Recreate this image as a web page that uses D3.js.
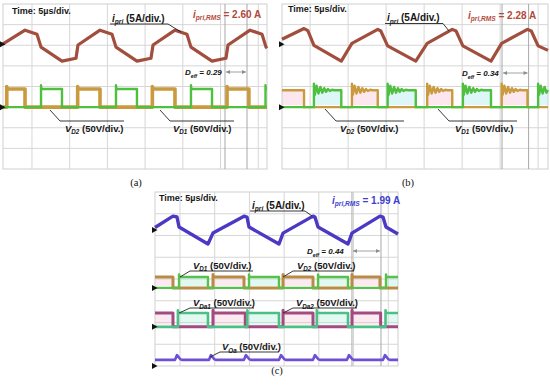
<!DOCTYPE html>
<html><head><meta charset="utf-8">
<script src="https://cdn.jsdelivr.net/npm/d3@7"></script>
<style>
body{margin:0;background:#fff}
svg{display:block}
text{font-family:"Liberation Sans",Arial,Helvetica,sans-serif}
</style></head>
<body><svg width="550" height="387"></svg>
<script>
// ================= DATA =================
const timeWindow = [0, 35];           // µs (7 div × 5 µs/div)
const voltsPerDiv = 50, ampsPerDiv = 5;
const timeLabel = "Time: 5µs/div.";
const panelNames = ["(a)", "(b)", "(c)"];

// ---- panel (a)
const aTime    = [0, 2.92, 4.51, 5.04, 7.82, 9.68, 9.94, 12.86, 14.45, 14.98, 17.76, 19.62, 19.89, 22.80, 24.39, 24.92, 27.71, 29.56, 29.83, 32.75, 34.34, 34.87, 35.0];
const aCurrent = [0.1, 3.4, 2.4, -0.7, -4.1, -3.4, -0.2, 3.4, 2.4, -0.7, -4.1, -3.4, -0.2, 3.4, 2.4, -0.7, -4.1, -3.4, -0.2, 3.4, 2.4, -0.7, -1.0];
const aVD2On  = [0.5, 9.9, 19.8, 29.7],  aVD2Off = [2.92, 12.86, 22.8, 32.6];
const aVD1On  = [5.04, 14.98, 24.92, 34.8], aVD1Off = [7.82, 17.76, 27.71, 36];
const aVDHigh = 44;  // V
const aCursors = [29.43, 32.35];
const aRms = "2.60 A", aDeff = "0.29";

// ---- panel (b)
const bTime    = [0, 2.9, 3.4, 4.2, 7.8, 9.2, 12.6, 13.0, 13.9, 17.6, 19.1, 22.4, 22.9, 23.8, 27.5, 28.9, 32.3, 32.8, 33.7, 35];
const bCurrent = [1.2, 3.8, 3.3, -0.3, -4.1, 0.2, 3.6, 3.2, -0.4, -4.1, 0.2, 3.6, 3.2, -0.4, -4.1, 0.2, 3.6, 3.2, -0.4, -1.5];
const bVD2On  = [-1, 9.2, 19.1, 28.9],  bVD2Off = [2.9, 12.6, 22.4, 32.3];
const bVD1On  = [4.2, 13.9, 23.8, 33.7], bVD1Off = [7.8, 17.6, 27.5, 36];
const bVDHigh = 41;
const bRingT = [0, 0.12, 0.35, 0.6, 0.85, 1.1, 1.35, 1.6, 1.85, 2.1, 2.4, 2.7];
const bRingV = [16, -11, 11, -8, 8, -6, 5, -4, 3, -2, 1, 0];
const bCursors = [28.95, 32.45];
const bRms = "2.28 A", bDeff = "0.34";

// ---- panel (c)
const cTime    = [0, 2.59, 3.17, 3.46, 7.63, 8.35, 12.82, 13.25, 13.54, 17.86, 18.44, 22.76, 23.04, 23.48, 27.80, 28.37, 32.41, 32.84, 33.27, 35];
const cCurrent = [0.6, 3.2, 3.0, 0.7, -3.2, -0.7, 3.2, 3.0, 0.7, -3.2, -0.7, 3.2, 3.0, 0.7, -3.2, -0.7, 3.2, 3.0, 0.7, -0.9];
const cVD2On  = [-1, 8.35, 18.44, 28.37],  cVD2Off = [2.59, 12.82, 22.76, 32.41];
const cVD1On  = [3.46, 13.54, 23.48, 33.27], cVD1Off = [7.63, 17.86, 27.80, 36];
const cVDHigh = 25;
const cVDa2On = [-1, 8.35, 18.44, 28.37],  cVDa2Off = [2.59, 13.0, 22.76, 32.5];
const cVDa1On = [3.3, 13.3, 23.3, 33.2],  cVDa1Off = [7.63, 17.86, 27.80, 36];
const cVDaHigh = 32;
const cVOaBase = 14, cVOaPeak = 25;
const cVOaBumps = [3.17, 8.06, 13.1, 18.15, 23.04, 27.94, 33.13];
const cCursors = [28.37, 32.55];
const cRms = "1.99 A", cDeff = "0.44";

// ================= LAYOUT =================
const svg = d3.select("svg");
const C = {
  cur: "#a24e3e", vd2: "#c99a3e", vd1: "#4fbf3f",
  curC: "#4b39c4", vd2C: "#b88c44", vd1C: "#58c04c",
  mag: "#a34a82", mint: "#4cbf86", voa: "#6e4fd6",
  grid: "#d6d6d6", cursor: "#a8a8a8", text: "#161616"
};

function makePanel(o) {
  const g = svg.append("g");
  const x = d3.scaleLinear().domain(timeWindow).range([o.x0, o.x1]);
  const y = d3.scaleLinear().domain([-4, 4]).range([o.y1, o.y0]);
  g.append("rect").attr("x", o.x0).attr("y", o.y0).attr("width", o.x1 - o.x0).attr("height", o.y1 - o.y0)
    .attr("fill", "#fff").attr("stroke", "#cfcfcf").attr("stroke-width", 1);
  const gx = [];
  for (let t = o.gridT0; t < timeWindow[1]; t += 5) gx.push(t);
  g.selectAll(null).data(gx).enter().append("line")
    .attr("x1", d => x(d)).attr("x2", d => x(d)).attr("y1", o.y0).attr("y2", o.y1)
    .attr("stroke", C.grid).attr("stroke-width", 1);
  g.selectAll(null).data(d3.range(-3, 4)).enter().append("line")
    .attr("x1", o.x0).attr("x2", o.x1).attr("y1", d => y(d)).attr("y2", d => y(d))
    .attr("stroke", C.grid).attr("stroke-width", 1);
  return {g, x, y, o};
}

function chY(P, offset, perDiv) { return v => P.y(offset + v / perDiv); }

function pulsePts(on, off, hi, ringT, ringV) {
  const [t0, t1] = timeWindow;
  const pts = [[t0, on[0] <= t0 ? hi : 0]];
  on.forEach((ts, i) => {
    const te = Math.min(off[i], t1);
    if (ts > t0) {
      pts.push([ts, 0]);
      if (ringT) ringT.forEach((dt, j) => { if (ts + dt < te) pts.push([ts + dt, hi + ringV[j]]); });
      else pts.push([ts, hi]);
    }
    pts.push([te, hi]);
    if (off[i] < t1) pts.push([te, 0]);
  });
  const last = pts[pts.length - 1];
  if (last[0] < t1) pts.push([t1, last[1]]);
  return pts;
}

function drawLine(P, pts, yf, color, w, op) {
  P.g.append("path").datum(pts)
    .attr("d", d3.line().x(d => P.x(d[0])).y(d => yf(d[1])))
    .attr("fill", "none").attr("stroke", color).attr("stroke-width", w)
    .attr("stroke-linejoin", "round").attr("opacity", op || 1);
}

function pulseFill(P, on, off, hi, yf, color) {
  on.forEach((ts, i) => {
    const a = Math.max(ts, timeWindow[0]), b = Math.min(off[i], timeWindow[1]);
    P.g.append("rect").attr("x", P.x(a)).attr("width", P.x(b) - P.x(a))
      .attr("y", yf(hi)).attr("height", yf(0) - yf(hi) - 2)
      .attr("fill", color).attr("opacity", 0.35);
  });
}

function ground(P, yv) {
  const x0 = P.o.x0;
  P.g.append("path").attr("d", `M${x0 - 3},${yv - 3}L${x0 + 2.5},${yv}L${x0 - 3},${yv + 3}Z`).attr("fill", "#111");
}

function cursors(P, ts) {
  P.g.selectAll(null).data(ts).enter().append("line")
    .attr("x1", d => P.x(d)).attr("x2", d => P.x(d)).attr("y1", P.o.y0).attr("y2", P.o.y1)
    .attr("stroke", C.cursor).attr("stroke-width", 1);
}

function rich(g, x, y, parts, size, color, anchor) {
  const t = g.append("text").attr("x", x).attr("y", y).attr("font-size", size)
    .attr("font-weight", "bold").attr("fill", color || C.text);
  if (anchor) t.attr("text-anchor", anchor);
  let sub = false;
  parts.forEach(p => {
    const ts = t.append("tspan").text(p.s);
    if (p.i) ts.attr("font-style", "italic");
    if (p.sub) { ts.attr("font-size", size * 0.66).attr("dy", 2.5); sub = true; }
    else if (sub) { ts.attr("dy", -2.5); sub = false; }
  });
  return t;
}

function leader(g, pts) {
  g.append("path").attr("d", d3.line()(pts)).attr("fill", "none").attr("stroke", "#222").attr("stroke-width", 0.9);
}

function deffArrow(P, t0, t1, yv, txtX, val) {
  const a = P.x(t0) + 1, b = P.x(t1) - 1;
  P.g.append("line").attr("x1", a).attr("x2", b).attr("y1", yv).attr("y2", yv).attr("stroke", "#8c8c8c").attr("stroke-width", 0.8);
  P.g.append("path").attr("d", `M${a},${yv}l4,-2v4Z M${b},${yv}l-4,-2v4Z`).attr("fill", "#8c8c8c");
  rich(P.g, txtX, yv + 3, [{s: "D", i: 1}, {s: "eff", i: 1, sub: 1}, {s: " = " + val, i: 1}], 8);
}

function vLabel(g, x, y, sym, sub) {
  rich(g, x, y, [{s: sym, i: 1}, {s: sub, i: 1, sub: 1}, {s: " (50V/div.)"}], 9.5);
}

// ================= PANEL (a) =================
const A = makePanel({x0: 3, x1: 267, y0: 4, y1: 169, gridT0: 3.84});
const aI = chY(A, 2.05, ampsPerDiv), aV = chY(A, -1, voltsPerDiv);
cursors(A, aCursors);
drawLine(A, pulsePts(aVD2On, aVD2Off, aVDHigh, [0, 0.05], [6, 0]), aV, C.vd2, 3.6);
drawLine(A, pulsePts(aVD1On, aVD1Off, aVDHigh, [0, 0.05], [9, 0]), aV, C.vd1, 2.4);
drawLine(A, d3.zip(aTime, aCurrent), aI, C.cur, 3.2);
ground(A, aI(0)); ground(A, aV(0));
rich(A.g, 12, 13.5, [{s: timeLabel}], 9);
rich(A.g, 112, 21.5, [{s: "i", i: 1}, {s: "pri", i: 1, sub: 1}, {s: " (5A/div.)"}], 10);
leader(A.g, [[110, 24], [168, 24], [181, 32]]);
rich(A.g, 193, 17.5, [{s: "i", i: 1}, {s: "pri,RMS", i: 1, sub: 1}, {s: " = " + aRms}], 10, "#b5473a");
deffArrow(A, aCursors[0], aCursors[1], 72, 185, aDeff);
leader(A.g, [[50, 110], [60, 121], [124, 121]]);
vLabel(A.g, 65, 131.5, "V", "D2");
leader(A.g, [[160, 110], [170, 121], [234, 121]]);
vLabel(A.g, 173, 131.5, "V", "D1");

// ================= PANEL (b) =================
const B = makePanel({x0: 282, x1: 548, y0: 4, y1: 169, gridT0: 3.7});
const bI = chY(B, 2.05, ampsPerDiv), bV = chY(B, -1, voltsPerDiv);
pulseFill(B, bVD1On, bVD1Off, bVDHigh, bV, "#9fe8ec");
pulseFill(B, bVD2On, bVD2Off, bVDHigh, bV, "#f6b9cf");
cursors(B, bCursors);
drawLine(B, pulsePts(bVD2On, bVD2Off, bVDHigh, bRingT, bRingV), bV, C.vd2, 2.4);
drawLine(B, pulsePts(bVD1On, bVD1Off, bVDHigh, bRingT, bRingV), bV, C.vd1, 2.4);
drawLine(B, d3.zip(bTime, bCurrent), bI, C.cur, 3.2);
ground(B, bI(0)); ground(B, bV(0));
rich(B.g, 288, 11.5, [{s: timeLabel}], 9);
rich(B.g, 387, 21, [{s: "i", i: 1}, {s: "pri", i: 1, sub: 1}, {s: " (5A/div.)"}], 10);
leader(B.g, [[385, 23.5], [443, 23.5], [449, 31]]);
rich(B.g, 468, 18.5, [{s: "i", i: 1}, {s: "pri,RMS", i: 1, sub: 1}, {s: " = " + bRms}], 10, "#b5473a");
deffArrow(B, bCursors[0], bCursors[1], 73, 462, bDeff);
leader(B.g, [[325, 109], [336, 121], [404, 121]]);
vLabel(B.g, 340, 131.5, "V", "D2");
leader(B.g, [[438, 109], [449, 121], [517, 121]]);
vLabel(B.g, 455, 131.5, "V", "D1");

// ================= PANEL (c) =================
const Cp = makePanel({x0: 155, x1: 398, y0: 192, y1: 366, gridT0: 3.6});
const cI = chY(Cp, 2.25, ampsPerDiv), cV = chY(Cp, -0.41, voltsPerDiv),
      cVa = chY(Cp, -2.2, voltsPerDiv), cVo = chY(Cp, -4.0, voltsPerDiv);
pulseFill(Cp, cVD1On, cVD1Off, cVDHigh, cV, "#a9eed8");
pulseFill(Cp, cVD2On, cVD2Off, cVDHigh, cV, "#f6c3d6");
pulseFill(Cp, cVDa1On, cVDa1Off, cVDaHigh, cVa, "#a9eed8");
pulseFill(Cp, cVDa2On, cVDa2Off, cVDaHigh, cVa, "#f6c3d6");
cursors(Cp, cCursors);
drawLine(Cp, pulsePts(cVD2On, cVD2Off, cVDHigh, [0, 0.06], [6, 0]), cV, C.vd2C, 3);
drawLine(Cp, pulsePts(cVD1On, cVD1Off, cVDHigh, [0, 0.06], [6, 0]), cV, C.vd1C, 2.4);
drawLine(Cp, pulsePts(cVDa2On, cVDa2Off, cVDaHigh, [0, 0.06], [6, 0]), cVa, C.mag, 3);
drawLine(Cp, pulsePts(cVDa1On, cVDa1Off, cVDaHigh, [0, 0.06], [6, 0]), cVa, C.mint, 2.6);
const voaPts = [[timeWindow[0], cVOaBase]];
cVOaBumps.forEach(t => { voaPts.push([t - 0.3, cVOaBase], [t, cVOaPeak], [t + 0.45, cVOaBase + 2], [t + 0.7, cVOaBase]); });
voaPts.push([timeWindow[1], cVOaBase]);
drawLine(Cp, voaPts, cVo, C.voa, 2.6);
drawLine(Cp, d3.zip(cTime, cCurrent), cI, C.curC, 3.4);
ground(Cp, cI(0)); ground(Cp, cV(0)); ground(Cp, cVa(0)); ground(Cp, cVo(0));
rich(Cp.g, 159, 200.5, [{s: timeLabel}], 9);
rich(Cp.g, 252, 208.5, [{s: "i", i: 1}, {s: "pri", i: 1, sub: 1}, {s: " (5A/div.)"}], 10);
leader(Cp.g, [[250, 211], [305, 211], [312, 216]]);
rich(Cp.g, 332, 203.5, [{s: "i", i: 1}, {s: "pri,RMS", i: 1, sub: 1}, {s: " = " + cRms}], 10, "#3f3fd0");
deffArrow(Cp, cCursors[0], cCursors[1], 251, 307, cDeff);
leader(Cp.g, [[180, 277], [190, 271], [253, 271]]);
vLabel(Cp.g, 193, 268.5, "V", "D1");
leader(Cp.g, [[283, 277], [293, 271], [354, 271]]);
vLabel(Cp.g, 297, 268.5, "V", "D2");
leader(Cp.g, [[179, 313], [190, 308], [254, 308]]);
vLabel(Cp.g, 193, 306, "V", "Da1");
leader(Cp.g, [[283, 313], [293, 308], [357, 308]]);
vLabel(Cp.g, 296, 306, "V", "Da2");
leader(Cp.g, [[210, 357], [220, 352], [279, 352]]);
vLabel(Cp.g, 222, 350, "V", "Oa");

// panel captions
const caps = [[136, 185.5], [408, 185.5], [277, 373.5]];
svg.selectAll(null).data(panelNames).enter().append("text")
  .attr("x", (d, i) => caps[i][0]).attr("y", (d, i) => caps[i][1])
  .attr("text-anchor", "middle").attr("font-size", 10.5)
  .style("font-family", "'Liberation Serif','Times New Roman',serif").attr("fill", "#111")
  .text(d => d);
</script></body></html>
